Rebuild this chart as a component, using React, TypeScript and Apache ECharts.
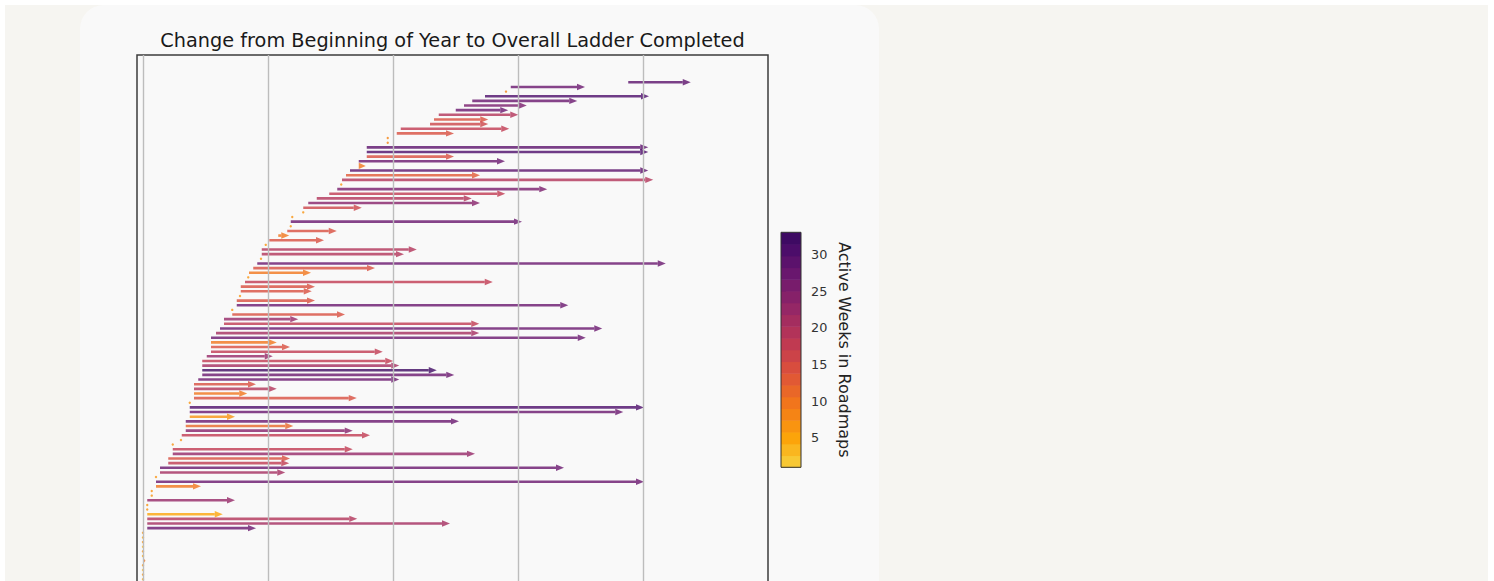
import React, { useEffect, useRef } from 'react';
import * as echarts from 'echarts';

// One row per person, top row first. (x in axis units).
const starts = [
  19.41, 14.71, 14.52, 13.68, 13.17, 12.84, 12.51, 11.83, 11.64, 11.48,
  10.31, 10.15, 9.79, 9.79, 8.95, 8.95, 8.95, 8.63, 8.63, 8.28,
  8.12, 7.96, 7.93, 7.77, 7.45, 6.95, 6.61, 6.41, 6.41, 5.97,
  5.91, 5.91, 5.77, 5.41, 5.05, 4.91, 4.75, 4.75, 4.72, 4.57,
  4.41, 4.24, 4.21, 4.08, 3.91, 3.91, 3.88, 3.75, 3.75, 3.57,
  3.57, 3.24, 3.24, 3.08, 2.92, 2.72, 2.72, 2.72, 2.72, 2.55,
  2.37, 2.37, 2.37, 2.37, 2.21, 2.04, 2.04, 2.04, 2.04, 1.87,
  1.87, 1.87, 1.87, 1.71, 1.71, 1.71, 1.55, 1.52, 1.19, 1.19,
  1.19, 1.01, 1.01, 0.68, 0.68, 0.52, 0.52, 0.52, 0.35, 0.35,
  0.17, 0.17, 0.17, 0.17, 0.17, 0.17, 0.17,
  0, 0, 0, 0, 0, 0, 0, 0, 0, 0, 0, 0, 0, 0, 0, 0, 0, 0, 0, 0, 0,
];

const ends = [
  21.91, 17.68, 14.52, 20.24, 17.37, 15.35, 14.61, 15.01, 13.81, 13.81,
  14.65, 12.44, 9.79, 9.79, 20.21, 20.21, 12.44, 14.48, 8.91, 20.21,
  13.48, 20.41, 7.93, 16.17, 14.49, 13.15, 13.48, 8.75, 6.41, 5.97,
  15.16, 5.91, 7.75, 5.85, 7.24, 4.91, 10.95, 10.44, 4.72, 20.91,
  9.28, 6.72, 4.21, 13.99, 6.88, 6.75, 3.88, 6.88, 17.01, 3.57,
  8.08, 6.21, 13.45, 18.37, 13.45, 17.71, 5.35, 5.88, 9.59, 5.19,
  10.01, 10.25, 11.75, 12.45, 10.25, 4.52, 5.35, 4.17, 8.55, 1.87,
  20.04, 19.21, 3.68, 12.64, 6.01, 8.39, 9.08, 1.52, 1.19, 8.39,
  13.28, 5.88, 5.85, 16.84, 5.69, 0.52, 20.04, 2.32, 0.35, 0.35,
  3.68, 0.17, 0.17, 3.19, 8.57, 12.28, 4.52,
  0, 0, 0, 0, 0, 0, 0.1, 0, 0, 0, 0, 0, 0, 0, 0, 0, 0, 0, 0, 0, 0,
];

const weeks = [
  29, 28, 8, 30, 27, 25, 27, 19, 14, 16,
  17, 14, 8, 8, 29, 30, 15, 27, 9, 29,
  13, 20, 7, 25, 18, 20, 24, 16, 7, 7,
  27, 7, 15, 9, 14, 7, 19, 19, 7, 28,
  15, 10, 7, 18, 15, 15, 7, 15, 27, 7,
  15, 22, 18, 28, 21, 28, 10, 15, 17, 23,
  18, 21, 32, 28, 27, 14, 19, 10, 14, 7,
  30, 27, 6, 28, 12, 24, 17, 7, 7, 17,
  23, 15, 17, 27, 21, 7, 28, 10, 7, 7,
  23, 7, 7, 5, 20, 21, 27,
  6, 5, 7, 4, 6, 5, 9, 6, 4, 7, 5, 6, 8, 5, 6, 4, 7, 5, 6, 5, 6,
];

const xGridValues = [0, 5, 10, 15, 20];
const colorbarTicks = [5, 10, 15, 20, 25, 30];
const weeksMin = 1;
const weeksMax = 33;
const bandCount = 20;

const TITLE = 'Change from Beginning of Year to Overall Ladder Completed';
const CBAR_LABEL = 'Active Weeks in Roadmaps';

const INFERNO = ['#000004', '#160b39', '#420a68', '#6a176e', '#932667', '#bc3754', '#dd513a', '#f37819', '#fca50a', '#f6d746', '#fcffa4'];
const hexToRgb = (h: string) => [parseInt(h.slice(1, 3), 16), parseInt(h.slice(3, 5), 16), parseInt(h.slice(5, 7), 16)];
const INF_RGB = INFERNO.map(hexToRgb);
function inferno(t: number) {
  const x = Math.max(0, Math.min(1, t)) * 10;
  const i = Math.min(9, Math.floor(x));
  const f = x - i;
  const a = INF_RGB[i], b = INF_RGB[i + 1];
  return [0, 1, 2].map((k) => Math.round(a[k] + (b[k] - a[k]) * f));
}
const T_BOTTOM = 0.87;
const T_TOP = 0.19;
function bandColor(k: number, alpha = 1) {
  const t = T_BOTTOM - (k * (T_BOTTOM - T_TOP)) / (bandCount - 1);
  const [r, g, b] = inferno(t);
  return `rgba(${r},${g},${b},${alpha})`;
}
function weekBand(w: number) {
  const step = (weeksMax - weeksMin) / bandCount;
  return Math.max(0, Math.min(bandCount - 1, Math.floor((w - weeksMin) / step)));
}

const arrowData = starts.map((s, i) => [i, s, ends[i], weeks[i]]);
const bandData = Array.from({ length: bandCount }, (_, k) => {
  const step = (weeksMax - weeksMin) / bandCount;
  return [weeksMin + k * step, weeksMin + (k + 1) * step, k];
});

export default function App() {
  const ref = useRef<HTMLDivElement>(null);
  useEffect(() => {
    const chart = echarts.init(ref.current!, null, { renderer: 'svg' });
    const option: any = {
      animation: false,
      title: {
        text: TITLE,
        left: 447.5,
        top: 26,
        textAlign: 'center',
        textStyle: { fontFamily: 'DejaVu Sans', fontSize: 19.3, fontWeight: 'normal', color: '#1a1a1a' },
      },
      grid: [
        { left: 137, top: 55, width: 631, height: 598, show: true, borderColor: '#3c3c3c', borderWidth: 1.5, backgroundColor: 'transparent' },
        { left: 781, top: 232.3, width: 20, height: 235, show: false },
      ],
      xAxis: [
        { gridIndex: 0, type: 'value', min: -0.24, max: 25, axisLine: { show: false }, axisTick: { show: false }, axisLabel: { show: false }, splitLine: { show: false } },
        { gridIndex: 1, type: 'value', min: 0, max: 1, show: false },
      ],
      yAxis: [
        { gridIndex: 0, type: 'value', inverse: true, min: -5.88, max: 122.88, show: false },
        {
          gridIndex: 1, type: 'value', min: weeksMin, max: weeksMax, position: 'right',
          axisLine: { show: false },
          axisTick: { show: true, customValues: colorbarTicks, length: 5, lineStyle: { color: '#333', width: 1 } },
          axisLabel: { customValues: colorbarTicks, margin: 10, fontSize: 12.8, color: '#333', fontFamily: 'DejaVu Sans' },
          splitLine: { show: false },
          name: CBAR_LABEL, nameLocation: 'middle', nameRotate: -90, nameGap: 35,
          nameTextStyle: { fontSize: 16, color: '#222', fontFamily: 'DejaVu Sans' },
        },
      ],
      series: [
        {
          type: 'line', xAxisIndex: 0, yAxisIndex: 0, data: [], silent: true, z: 1,
          markLine: {
            silent: true, symbol: ['none', 'none'], label: { show: false },
            lineStyle: { color: '#bdbdbd', width: 1.4, type: 'solid' },
            emphasis: { disabled: true },
            data: xGridValues.map((v) => ({ xAxis: v })),
          },
        },
        {
          type: 'custom', xAxisIndex: 0, yAxisIndex: 0, z: 2, silent: true,
          data: arrowData,
          encode: { x: [1, 2], y: 0 },
          renderItem: (params: any, api: any) => {
            const row = api.value(0), s = api.value(1), e = api.value(2), w = api.value(3);
            const p0 = api.coord([s, row]);
            const p1 = api.coord([e, row]);
            const color = bandColor(weekBand(w), 0.8);
            const len = p1[0] - p0[0];
            const y = p0[1];
            if (len < 0.5) {
              return { type: 'circle', shape: { cx: p0[0], cy: y, r: 1.2 }, style: { fill: color } };
            }
            const headLen = Math.min(8, len);
            const children: any[] = [];
            if (len - headLen > 0) {
              children.push({ type: 'rect', shape: { x: p0[0], y: y - 1.3, width: len - headLen, height: 2.6 }, style: { fill: color } });
            }
            children.push({
              type: 'polygon',
              shape: { points: [[p1[0] - headLen, y - 3.2], [p1[0], y], [p1[0] - headLen, y + 3.2]] },
              style: { fill: color },
            });
            return { type: 'group', children };
          },
        },
        {
          type: 'custom', xAxisIndex: 1, yAxisIndex: 1, z: 2, silent: true,
          data: bandData,
          encode: { y: [0, 1] },
          renderItem: (params: any, api: any) => {
            const lo = api.value(0), hi = api.value(1), k = api.value(2);
            const a = api.coord([0, hi]);
            const b = api.coord([1, lo]);
            return { type: 'rect', shape: { x: a[0], y: a[1], width: b[0] - a[0], height: b[1] - a[1] + 0.5 }, style: { fill: bandColor(k) } };
          },
        },
        {
          type: 'custom', xAxisIndex: 1, yAxisIndex: 1, z: 3, silent: true,
          data: [[weeksMin, weeksMax]],
          encode: { y: [0, 1] },
          renderItem: (params: any, api: any) => {
            const a = api.coord([0, api.value(1)]);
            const b = api.coord([1, api.value(0)]);
            return { type: 'rect', shape: { x: a[0], y: a[1], width: b[0] - a[0], height: b[1] - a[1] }, style: { fill: 'none', stroke: '#333', lineWidth: 1 } };
          },
        },
      ],
    };
    chart.setOption(option);
    return () => chart.dispose();
  }, []);
  return (
    <div style={{ position: 'fixed', left: 0, top: 0, width: 1494, height: 581, overflow: 'hidden', background: '#ffffff' }}>
      <div style={{ position: 'absolute', left: 5, top: 5, width: 1483, height: 620, background: '#f6f5f1' }} />
      <div style={{ position: 'absolute', left: 80, top: 5, width: 799, height: 700, background: '#f9f9f9', borderRadius: 24 }} />
      <div ref={ref} style={{ position: 'absolute', left: 0, top: 0, width: 900, height: 700 }} />
    </div>
  );
}
